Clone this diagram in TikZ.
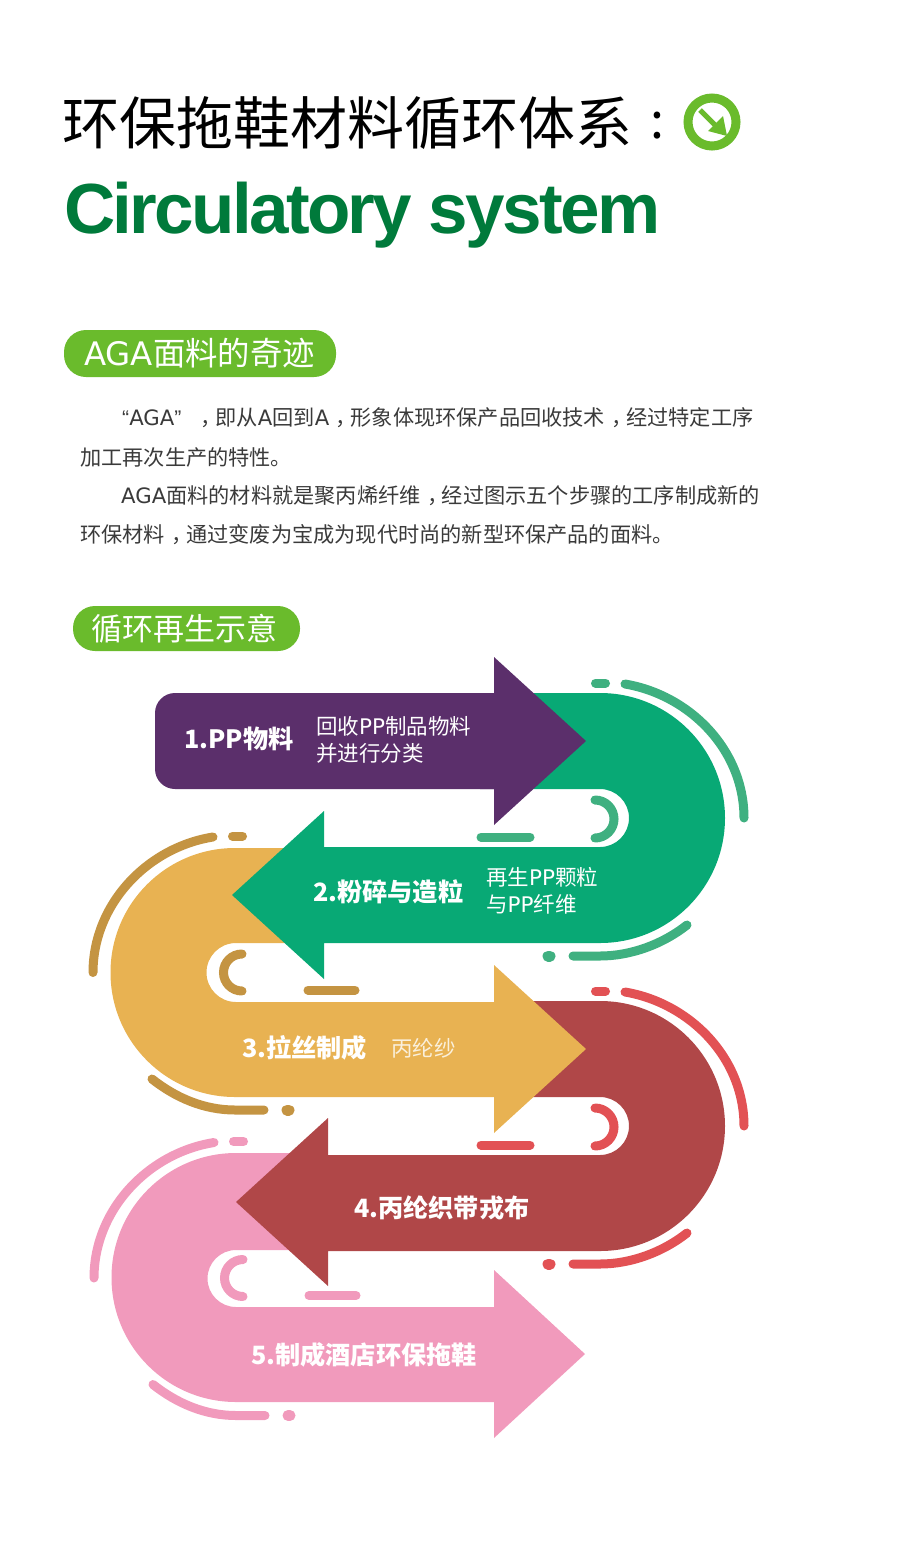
\documentclass[tikz,border=0pt]{standalone}
\usepackage{fontspec}
\setmainfont{Noto Sans CJK SC}
\newfontfamily\latinbold[LetterSpace=-3.8]{Liberation Sans Bold}
\newfontfamily\latinwide{DejaVu Sans}
\newfontfamily\latinquote{Liberation Sans}
\newcommand{\wide}[1]{{\latinwide #1}}
\newcommand{\midcomma}{\kern.3em，\kern-.3em}
\usepackage{xcolor}
\definecolor{leafgreen}{HTML}{6ABB2C}
\definecolor{titlegreen}{HTML}{007A3B}
\definecolor{bodygrey}{HTML}{3A3A3A}
\definecolor{plum}{HTML}{5B2F6B}
\definecolor{jade}{HTML}{08A975}
\definecolor{jadebit}{HTML}{3FB080}
\definecolor{amber}{HTML}{E8B252}
\definecolor{amberbit}{HTML}{C49442}
\definecolor{brick}{HTML}{B04748}
\definecolor{brickbit}{HTML}{E25154}
\definecolor{rose}{HTML}{F19ABC}
\tikzset{
  headpill/.style={fill=leafgreen, rounded corners=22pt},
  pilltext/.style={text=white, anchor=west, inner sep=0pt, font=\fontsize{32.4}{36}\selectfont},
  bodyline/.style={text=bodygrey, anchor=west, inner sep=0pt, font=\fontsize{21.2}{24}\selectfont},
  stepname/.style={text=white, anchor=west, inner sep=0pt, font=\fontsize{25.2}{30}\selectfont\bfseries},
  stepnote/.style={text=white, anchor=west, inner sep=0pt, align=left, font=\fontsize{21.5}{27}\selectfont},
  bit/.style={line width=9pt, line cap=round},
  rightbits/.pic={
    \draw [bit, #1] (-4.5,-135) -- (5.5,-135);
    \draw [bit, #1] (25,-134) .. controls (90,-123) and (144,-68) .. (144,0);
    \draw [bit, #1] (-27,138) -- (0,138) .. controls (31,138) and (63,126) .. (87,107);
    \draw [bit, #1, line width=11pt] (-52,138) -- (-50,138);
    \draw [bit, #1] (-5,-18) arc[start angle=-90, end angle=90, radius=19];
    \draw [bit, #1] (-119,19) -- (-70,19);
  },
  leftbits/.pic={
    \draw [bit, #1] (-2.5,-136.5) -- (7.5,-136.5);
    \draw [bit, #1] (-22,-135.5) .. controls (-88,-125) and (-142,-68) .. (-142,0);
    \draw [bit, #1] (-83,106.5) .. controls (-59,125.5) and (-30.6,137.5) .. (0,137.5) -- (29,137.5);
    \draw [bit, #1, line width=11pt] (52,137.5) -- (54,137.5);
    \draw [bit, #1] (7,-18.5) arc[start angle=270, end angle=90, radius=18.5];
    \draw [bit, #1] (73,17.5) -- (120,17.5);
  }
}
\begin{document}
\begin{tikzpicture}[x=1pt, y=-1pt]
  \useasboundingbox (0,0) rectangle (900,1559);

  % heading
  \node (title) [anchor=west, inner sep=0pt, text=black, font=\fontsize{57}{60}\selectfont]
    at (62,123) {环保拖鞋材料循环体系};
  \node (colon) [anchor=center, inner sep=0pt, text=black, font=\fontsize{50}{60}\selectfont]
    at (657,126) {:};
  \node (subtitle) [anchor=west, inner sep=0pt, text=titlegreen, font=\fontsize{71}{76}\latinbold]
    at (64,215) {Circulatory system};
  \draw [leafgreen, line width=9pt] (712,122) circle [radius=24];
  \draw [leafgreen, line width=5pt] (700,110) -- (717,127);
  \fill [leafgreen] (727,136) -- (708,131) -- (723,116) -- cycle;

  % first block
  \fill [headpill] (64,330) rectangle (336,377);
  \node (pilla) [pilltext] at (84,353) {\wide{AGA}面料的奇迹};
  \node (linea) [bodyline] at (122,418) {{\latinquote “}\wide{AGA}{\latinquote ”}\hspace{13pt}\midcomma 即从\wide{A}回到\wide{A}\midcomma 形象体现环保产品回收技术\midcomma 经过特定工序};
  \node (lineb) [bodyline] at (80,457) {加工再次生产的特性。};
  \node (linec) [bodyline] at (121,496) {\wide{AGA}面料的材料就是聚丙烯纤维\midcomma 经过图示五个步骤的工序制成新的};
  \node (lined) [bodyline] at (80,535) {环保材料\midcomma 通过变废为宝成为现代时尚的新型环保产品的面料。};

  % second block
  \fill [headpill] (73,606) rectangle (300,651);
  \node (pillb) [pilltext, font=\fontsize{31}{36}\selectfont] at (91,629) {循环再生示意};

  % bands, last one first
  \fill [rose] (300,1153) -- (236,1153) arc[start angle=-90, end angle=-270, radius=124.5]
    -- (494,1402) -- (494,1438) -- (585,1354) -- (494,1270) -- (494,1307) -- (236,1307)
    arc[start angle=90, end angle=270, radius=28.5] -- (300,1250) -- cycle;
  \fill [brick] (520,1001) -- (600,1001) arc[start angle=-90, end angle=90, radius=125]
    -- (328,1251) -- (328,1286) -- (236,1202) -- (328,1118) -- (328,1155) -- (600,1155)
    arc[start angle=90, end angle=-90, radius=29] -- (520,1097) -- cycle;
  \fill [amber] (300,848) -- (235,848) arc[start angle=-90, end angle=-270, radius=124.5]
    -- (494,1097) -- (494,1133) -- (586,1049) -- (494,965) -- (494,1002) -- (236,1002)
    arc[start angle=90, end angle=270, radius=29.5] -- (300,943) -- cycle;
  \fill [jade] (520,693) -- (600,693) arc[start angle=-90, end angle=90, radius=125]
    -- (324,943) -- (324,979) -- (232,895) -- (324,811) -- (324,847) -- (600,847)
    arc[start angle=90, end angle=-90, radius=29] -- (520,789) -- cycle;
  \fill [plum, rounded corners=20pt] (494,693) -- (155,693) -- (155,789) -- (494,789);
  \fill [plum] (480,693) -- (494,693) -- (494,657) -- (586,741) -- (494,825) -- (494,789) -- (480,789) -- cycle;

  % small strokes round the bands
  \pic at (600,818) {rightbits=jadebit};
  \pic at (235,972.5) {leftbits=amberbit};
  \pic at (600,1126) {rightbits=brickbit};
  \pic at (236,1278) {leftbits=rose};

  % step labels
  \node (stepa) [stepname] at (184,739) {1.PP物料};
  \node (notea) [stepnote] at (316,740) {回收\wide{PP}制品物料\\并进行分类};
  \node (stepb) [stepname] at (313,892) {2.粉碎与造粒};
  \node (noteb) [stepnote] at (486,891) {再生\wide{PP}颗粒\\与\wide{PP}纤维};
  \node (stepc) [stepname] at (242,1048) {3.拉丝制成};
  \node (notec) [stepnote, text=white!80!amber] at (391,1048) {丙纶纱};
  \node (stepd) [stepname] at (354,1208) {4.丙纶织带戎布};
  \node (stepe) [stepname] at (251,1355) {5.制成酒店环保拖鞋};
\end{tikzpicture}
\end{document}
